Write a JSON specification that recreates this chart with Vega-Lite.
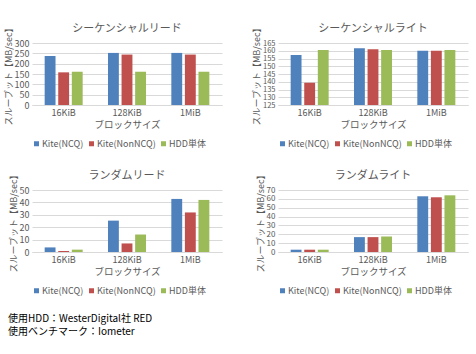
{
  "$schema": "https://vega.github.io/schema/vega-lite/v6.json",
  "background": "white",
  "padding": {"left": 4, "top": 22, "right": 2, "bottom": 2},
  "config": {
    "font": "Noto Sans CJK JP",
    "view": {"stroke": null},
    "concat": {"spacing": {"row": 20, "column": 30}},
    "title": {"fontSize": 11, "fontWeight": "normal", "color": "#595959", "offset": -11, "frame": "group"},
    "axis": {"labelColor": "#595959", "titleColor": "#595959", "labelFontSize": 9, "titleFontSize": 9.5, "titleFontWeight": "normal", "ticks": false},
    "axisX": {"domainColor": "#d9d9d9", "labelAngle": 0, "titlePadding": 2, "labelPadding": 3},
    "axisY": {"domain": false, "gridColor": "#d9d9d9", "labelOverlap": false, "labelPadding": 3, "titlePadding": 1, "titleFontSize": 9},
    "legend": {"orient": "bottom", "direction": "horizontal", "title": null, "labelFontSize": 9, "labelColor": "#595959", "symbolType": "square", "symbolSize": 25, "columnPadding": 3, "labelOffset": 1, "padding": 0, "offset": 10}
  },
  "title": {"text": ["使用HDD：WesterDigital社 RED", "使用ベンチマーク：Iometer"], "orient": "bottom", "anchor": "start", "frame": "bounds", "fontSize": 10, "color": "#000000", "offset": 18, "lineHeight": 13, "dx": 4},
  "data": {"values": [
    {"chart": "sr", "size": "16KiB", "series": "Kite(NCQ)", "value": 237},
    {"chart": "sr", "size": "16KiB", "series": "Kite(NonNCQ)", "value": 158},
    {"chart": "sr", "size": "16KiB", "series": "HDD単体", "value": 161},
    {"chart": "sr", "size": "128KiB", "series": "Kite(NCQ)", "value": 252},
    {"chart": "sr", "size": "128KiB", "series": "Kite(NonNCQ)", "value": 244},
    {"chart": "sr", "size": "128KiB", "series": "HDD単体", "value": 161},
    {"chart": "sr", "size": "1MiB", "series": "Kite(NCQ)", "value": 252},
    {"chart": "sr", "size": "1MiB", "series": "Kite(NonNCQ)", "value": 244},
    {"chart": "sr", "size": "1MiB", "series": "HDD単体", "value": 161},
    {"chart": "sw", "size": "16KiB", "series": "Kite(NCQ)", "value": 157.3},
    {"chart": "sw", "size": "16KiB", "series": "Kite(NonNCQ)", "value": 139.4},
    {"chart": "sw", "size": "16KiB", "series": "HDD単体", "value": 160.5},
    {"chart": "sw", "size": "128KiB", "series": "Kite(NCQ)", "value": 161.6},
    {"chart": "sw", "size": "128KiB", "series": "Kite(NonNCQ)", "value": 160.9},
    {"chart": "sw", "size": "128KiB", "series": "HDD単体", "value": 160.5},
    {"chart": "sw", "size": "1MiB", "series": "Kite(NCQ)", "value": 160.0},
    {"chart": "sw", "size": "1MiB", "series": "Kite(NonNCQ)", "value": 160.0},
    {"chart": "sw", "size": "1MiB", "series": "HDD単体", "value": 160.5},
    {"chart": "rr", "size": "16KiB", "series": "Kite(NCQ)", "value": 3.7},
    {"chart": "rr", "size": "16KiB", "series": "Kite(NonNCQ)", "value": 0.8},
    {"chart": "rr", "size": "16KiB", "series": "HDD単体", "value": 1.9},
    {"chart": "rr", "size": "128KiB", "series": "Kite(NCQ)", "value": 25.3},
    {"chart": "rr", "size": "128KiB", "series": "Kite(NonNCQ)", "value": 6.9},
    {"chart": "rr", "size": "128KiB", "series": "HDD単体", "value": 14.1},
    {"chart": "rr", "size": "1MiB", "series": "Kite(NCQ)", "value": 42.8},
    {"chart": "rr", "size": "1MiB", "series": "Kite(NonNCQ)", "value": 31.9},
    {"chart": "rr", "size": "1MiB", "series": "HDD単体", "value": 42.0},
    {"chart": "rw", "size": "16KiB", "series": "Kite(NCQ)", "value": 2.6},
    {"chart": "rw", "size": "16KiB", "series": "Kite(NonNCQ)", "value": 2.6},
    {"chart": "rw", "size": "16KiB", "series": "HDD単体", "value": 2.6},
    {"chart": "rw", "size": "128KiB", "series": "Kite(NCQ)", "value": 16.8},
    {"chart": "rw", "size": "128KiB", "series": "Kite(NonNCQ)", "value": 16.8},
    {"chart": "rw", "size": "128KiB", "series": "HDD単体", "value": 17.5},
    {"chart": "rw", "size": "1MiB", "series": "Kite(NCQ)", "value": 62.9},
    {"chart": "rw", "size": "1MiB", "series": "Kite(NonNCQ)", "value": 61.8},
    {"chart": "rw", "size": "1MiB", "series": "HDD単体", "value": 64.0}
  ]},
  "columns": 2,
  "resolve": {"legend": {"color": "independent"}, "scale": {"y": "independent"}},
  "concat": [
    {
      "title": "シーケンシャルリード",
      "width": 190, "height": 62,
      "transform": [{"filter": "datum.chart === 'sr'"}],
      "mark": {"type": "bar", "clip": true},
      "encoding": {
        "x": {"field": "size", "type": "nominal", "sort": ["16KiB", "128KiB", "1MiB"], "title": "ブロックサイズ", "scale": {"paddingInner": 0.4, "paddingOuter": 0.2}},
        "xOffset": {"field": "series", "sort": ["Kite(NCQ)", "Kite(NonNCQ)", "HDD単体"], "scale": {"paddingInner": 0.2}},
        "y": {"field": "value", "type": "quantitative", "title": "スループット【MB/sec】", "scale": {"domain": [0, 300], "nice": false}, "axis": {"values": [0, 50, 100, 150, 200, 250, 300]}},
        "color": {"field": "series", "type": "nominal", "sort": ["Kite(NCQ)", "Kite(NonNCQ)", "HDD単体"], "scale": {"domain": ["Kite(NCQ)", "Kite(NonNCQ)", "HDD単体"], "range": ["#4F81BD", "#C0504D", "#9BBB59"]}}
      }
    },
    {
      "title": "シーケンシャルライト",
      "width": 190, "height": 62,
      "transform": [{"filter": "datum.chart === 'sw'"}],
      "mark": {"type": "bar", "clip": true},
      "encoding": {
        "x": {"field": "size", "type": "nominal", "sort": ["16KiB", "128KiB", "1MiB"], "title": "ブロックサイズ", "scale": {"paddingInner": 0.4, "paddingOuter": 0.2}},
        "xOffset": {"field": "series", "sort": ["Kite(NCQ)", "Kite(NonNCQ)", "HDD単体"], "scale": {"paddingInner": 0.2}},
        "y": {"field": "value", "type": "quantitative", "title": "スループット【MB/sec】", "scale": {"domain": [125, 165], "nice": false, "zero": false}, "axis": {"values": [125, 130, 135, 140, 145, 150, 155, 160, 165], "labelFontSize": 7.5}},
        "color": {"field": "series", "type": "nominal", "sort": ["Kite(NCQ)", "Kite(NonNCQ)", "HDD単体"], "scale": {"domain": ["Kite(NCQ)", "Kite(NonNCQ)", "HDD単体"], "range": ["#4F81BD", "#C0504D", "#9BBB59"]}}
      }
    },
    {
      "title": "ランダムリード",
      "width": 190, "height": 62,
      "transform": [{"filter": "datum.chart === 'rr'"}],
      "mark": {"type": "bar", "clip": true},
      "encoding": {
        "x": {"field": "size", "type": "nominal", "sort": ["16KiB", "128KiB", "1MiB"], "title": "ブロックサイズ", "scale": {"paddingInner": 0.4, "paddingOuter": 0.2}},
        "xOffset": {"field": "series", "sort": ["Kite(NCQ)", "Kite(NonNCQ)", "HDD単体"], "scale": {"paddingInner": 0.2}},
        "y": {"field": "value", "type": "quantitative", "title": "スループット【MB/sec】", "scale": {"domain": [0, 50], "nice": false}, "axis": {"values": [0, 10, 20, 30, 40, 50]}},
        "color": {"field": "series", "type": "nominal", "sort": ["Kite(NCQ)", "Kite(NonNCQ)", "HDD単体"], "scale": {"domain": ["Kite(NCQ)", "Kite(NonNCQ)", "HDD単体"], "range": ["#4F81BD", "#C0504D", "#9BBB59"]}}
      }
    },
    {
      "title": "ランダムライト",
      "width": 190, "height": 62,
      "transform": [{"filter": "datum.chart === 'rw'"}],
      "mark": {"type": "bar", "clip": true},
      "encoding": {
        "x": {"field": "size", "type": "nominal", "sort": ["16KiB", "128KiB", "1MiB"], "title": "ブロックサイズ", "scale": {"paddingInner": 0.4, "paddingOuter": 0.2}},
        "xOffset": {"field": "series", "sort": ["Kite(NCQ)", "Kite(NonNCQ)", "HDD単体"], "scale": {"paddingInner": 0.2}},
        "y": {"field": "value", "type": "quantitative", "title": "スループット【MB/sec】", "scale": {"domain": [0, 70], "nice": false}, "axis": {"values": [0, 10, 20, 30, 40, 50, 60, 70], "labelFontSize": 8}},
        "color": {"field": "series", "type": "nominal", "sort": ["Kite(NCQ)", "Kite(NonNCQ)", "HDD単体"], "scale": {"domain": ["Kite(NCQ)", "Kite(NonNCQ)", "HDD単体"], "range": ["#4F81BD", "#C0504D", "#9BBB59"]}}
      }
    }
  ]
}
